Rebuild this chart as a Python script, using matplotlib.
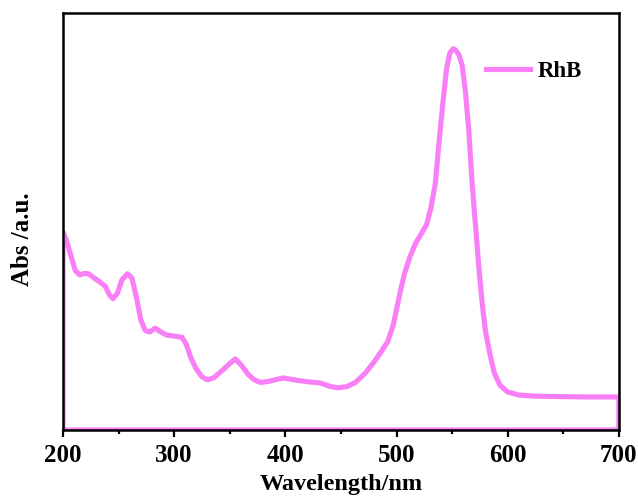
import matplotlib.pyplot as plt
from matplotlib.ticker import MultipleLocator

plt.rcParams['font.family'] = ['Liberation Serif', 'DejaVu Serif']
plt.rcParams['font.weight'] = 'bold'

# RhB absorption spectrum (wavelength in nm, absorbance in a.u.)
wavelength = [200, 203, 207, 211, 215, 219, 223, 228, 233, 238, 242, 245, 249,
              253, 258, 262, 266, 270, 274, 278, 283, 288, 293, 300, 307, 311,
              315, 320, 325, 330, 336, 343, 350, 355, 360, 367, 372, 378, 385,
              398, 410, 420, 431, 440, 447, 455, 463, 472, 480, 486, 492, 497,
              502, 507, 512, 517, 522, 527, 531, 535, 538, 542, 545, 548, 551,
              553, 556, 559, 562, 565, 568, 571, 574, 577, 580, 584, 588, 593,
              600, 610, 625, 645, 670, 700]
absorbance = [0.521, 0.500, 0.460, 0.420, 0.408, 0.412, 0.411, 0.400, 0.390,
              0.378, 0.355, 0.345, 0.360, 0.395, 0.411, 0.400, 0.350, 0.290,
              0.262, 0.258, 0.268, 0.258, 0.250, 0.247, 0.244, 0.225, 0.190,
              0.160, 0.140, 0.132, 0.138, 0.156, 0.175, 0.187, 0.172, 0.145,
              0.132, 0.125, 0.128, 0.137, 0.131, 0.127, 0.124, 0.115, 0.111,
              0.114, 0.125, 0.150, 0.180, 0.205, 0.232, 0.275, 0.345, 0.410,
              0.455, 0.490, 0.515, 0.540, 0.585, 0.650, 0.750, 0.868, 0.950,
              0.992, 1.003, 1.000, 0.988, 0.960, 0.890, 0.790, 0.650, 0.540,
              0.430, 0.335, 0.260, 0.200, 0.150, 0.118, 0.100, 0.092, 0.089,
              0.088, 0.087, 0.087]

# the trace is closed along the baseline, as exported by the instrument
x = [wavelength[0]] + wavelength + [wavelength[-1], wavelength[0]]
y = [0.0] + absorbance + [0.0, 0.0]

fig = plt.figure(figsize=(6.38, 5.01), dpi=100)
ax = fig.add_axes([0.0987, 0.1417, 0.8713, 0.8323])

ax.plot(x, y, color='#F97FF6', lw=3.7, solid_joinstyle='round', label='RhB')

ax.set_xlim(200, 700)
ax.set_ylim(0, 1.097)
ax.xaxis.set_major_locator(MultipleLocator(100))
ax.xaxis.set_minor_locator(MultipleLocator(50))
ax.set_yticks([])
ax.tick_params(axis='x', which='major', direction='out', length=5, width=1.6,
               labelsize=18, pad=5)
ax.tick_params(axis='x', which='minor', direction='out', length=3, width=1.6)
for s in ax.spines.values():
    s.set_linewidth(1.8)

ax.set_xlabel('Wavelength/nm', fontsize=17.5, fontweight='bold', labelpad=5)
ax.set_ylabel('Abs /a.u.', fontsize=18, fontweight='bold')
ax.yaxis.set_label_coords(-0.052, 0.458)

ax.legend(loc='upper right', bbox_to_anchor=(0.971, 0.934), frameon=False,
          handlelength=1.9, handletextpad=0.35,
          prop={'weight': 'bold', 'size': 16.5})

fig.savefig('out.png', dpi=100)
